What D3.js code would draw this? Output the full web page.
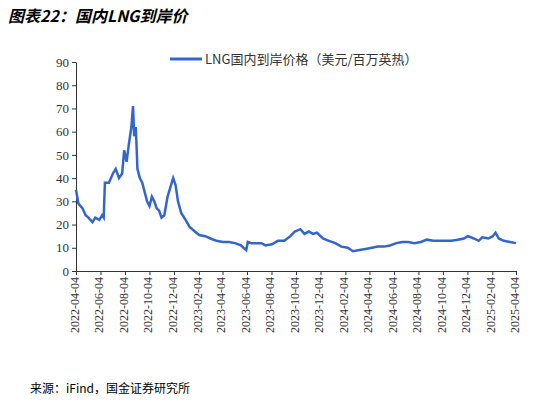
<!DOCTYPE html><html><head><meta charset="utf-8"><script src="https://cdn.jsdelivr.net/npm/d3@7"></script>
<style>body{margin:0;background:#fff;font-family:"Noto Sans CJK SC","Liberation Serif",serif}</style></head><body><svg width="557" height="403"></svg><script>
const dates=["2022-04-04","2022-04-10","2022-04-20","2022-04-28","2022-05-05","2022-05-15","2022-05-22","2022-06-01","2022-06-08","2022-06-12","2022-06-15","2022-06-25","2022-07-05","2022-07-12","2022-07-20","2022-07-28","2022-08-02","2022-08-08","2022-08-14","2022-08-20","2022-08-24","2022-08-27","2022-08-31","2022-09-04","2022-09-10","2022-09-16","2022-09-22","2022-09-28","2022-10-04","2022-10-10","2022-10-16","2022-10-22","2022-10-28","2022-11-03","2022-11-10","2022-11-18","2022-11-25","2022-12-02","2022-12-08","2022-12-14","2022-12-22","2023-01-02","2023-01-12","2023-01-25","2023-02-05","2023-02-20","2023-03-05","2023-03-20","2023-04-05","2023-04-20","2023-05-05","2023-05-20","2023-06-02","2023-06-06","2023-06-15","2023-06-25","2023-07-10","2023-07-20","2023-08-05","2023-08-20","2023-09-05","2023-09-20","2023-10-01","2023-10-15","2023-10-25","2023-11-05","2023-11-15","2023-11-25","2023-12-10","2023-12-25","2024-01-10","2024-01-25","2024-02-10","2024-02-23","2024-03-10","2024-03-25","2024-04-10","2024-04-25","2024-05-10","2024-05-25","2024-06-10","2024-06-25","2024-07-10","2024-07-25","2024-08-10","2024-08-25","2024-09-10","2024-09-25","2024-10-10","2024-10-25","2024-11-10","2024-11-25","2024-12-05","2024-12-20","2025-01-01","2025-01-10","2025-01-25","2025-02-05","2025-02-12","2025-02-20","2025-03-05","2025-03-20","2025-04-04"];
const values=[35,29,27,24,23,21,23,22,24,23,38,38,42,44,40,42,52,47,55,62,71,58,62,44,40,38,34,30,28,32,30,27,26,23,24,32,36,40,37,30,25,22,19,17,15.5,15,14,13,12.5,12.5,12,11,9,12.5,12,12,12,11,11.5,13,13,15,17,18,16,17,16,16.5,14,13,12,10.5,10,8.5,9,9.5,10,10.5,10.5,11,12,12.5,12.5,12,12.5,13.5,13,13,13,13,13.5,14,15,14,13,14.5,14,15,16.5,14,13,12.5,12];
const yTicks=[0,10,20,30,40,50,60,70,80,90];
const seriesName="LNG国内到岸价格（美元/百万英热）";
const svg=d3.select("svg"),p=d3.timeParse("%Y-%m-%d"),fmt=d3.timeFormat("%Y-%m-%d");
const data=dates.map((d,i)=>({d:p(d),v:values[i]}));
const x=d3.scaleTime().domain([p("2022-04-04"),p("2025-04-04")]).range([76,516]);
const y=d3.scaleLinear().domain([0,90]).range([271,62]);
svg.append("text").attr("x",8).attr("y",22).attr("font-size",16).attr("font-weight","bold").attr("font-style","italic").text("图表22：国内LNG到岸价");
const ya=svg.append("g").attr("transform","translate(76,0)").call(d3.axisLeft(y).tickValues(yTicks).tickSize(4).tickSizeOuter(0));
ya.selectAll("text").attr("font-size",13).attr("font-family","Liberation Serif").attr("fill","#333");
const xt=[];for(let i=0;i<=18;i++)xt.push(d3.timeMonth.offset(p("2022-04-04"),2*i));
const xa=svg.append("g").attr("transform","translate(0,271)").call(d3.axisBottom(x).tickValues(xt).tickFormat(fmt).tickSize(4).tickSizeOuter(0));
xa.selectAll("text").attr("font-size",12).attr("font-family","Liberation Serif").attr("fill","#333").attr("text-anchor","end").attr("transform","rotate(-90)").attr("dx","-6").attr("dy","-0.4em");
svg.selectAll(".domain,.tick line").attr("stroke","#333");
svg.append("path").datum(data).attr("fill","none").attr("stroke","#3366cc").attr("stroke-width",2.5).attr("d",d3.line().x(d=>x(d.d)).y(d=>y(d.v)));
svg.append("line").attr("x1",170).attr("x2",202).attr("y1",59).attr("y2",59).attr("stroke","#3366cc").attr("stroke-width",3);
svg.append("text").attr("x",205).attr("y",64).attr("font-size",13).attr("fill","#333").text(seriesName);
svg.append("text").attr("x",30).attr("y",393).attr("font-size",12).text("来源：iFind，国金证券研究所");
</script></body></html>
